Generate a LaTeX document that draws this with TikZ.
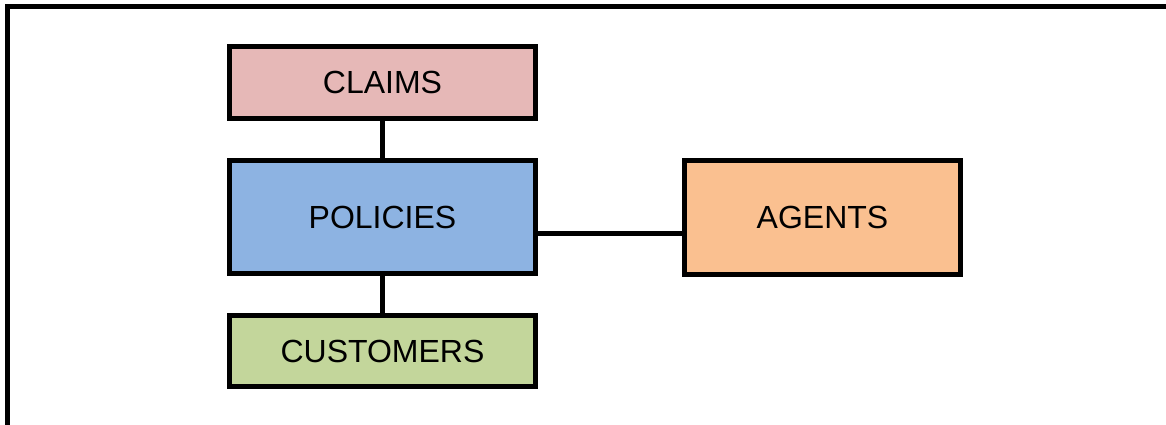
\documentclass[tikz,border=0pt]{standalone}
\usepackage{fontspec}
\setmainfont{Liberation Sans}
\definecolor{claimfill}{HTML}{E6B8B7}
\definecolor{policyfill}{HTML}{8DB3E2}
\definecolor{agentfill}{HTML}{FAC090}
\definecolor{custfill}{HTML}{C3D69B}
\begin{document}
\begin{tikzpicture}[x=1pt,y=-1pt,
  tbl/.style={draw=black,line width=5pt,rectangle,inner sep=0pt,
    font=\fontsize{32}{38}\selectfont},
  link/.style={draw=black,line width=5pt}]
\useasboundingbox (0,0) rectangle (1166,425);
% outer frame (top and left edges)
\draw[line width=5pt] (7.5,430) -- (7.5,6.5) -- (1170,6.5);
% tables
\node[tbl,fill=claimfill,minimum width=306pt,minimum height=72pt] (claims) at (382.5,82.5) {CLAIMS};
\node[tbl,fill=policyfill,minimum width=306pt,minimum height=113pt] (pol) at (382.5,217) {POLICIES};
\node[tbl,fill=agentfill,minimum width=276pt,minimum height=114pt] (ag) at (822.5,217.5) {AGENTS};
\node[tbl,fill=custfill,minimum width=306pt,minimum height=71pt] (cust) at (382.5,351) {CUSTOMERS};
% relations
\coordinate (h) at (600,233);
\draw[link] (claims.south) -- (pol.north);
\draw[link] (pol.south) -- (cust.north);
\draw[link] (pol.east |- h) -- (ag.west |- h);
\end{tikzpicture}
\end{document}
